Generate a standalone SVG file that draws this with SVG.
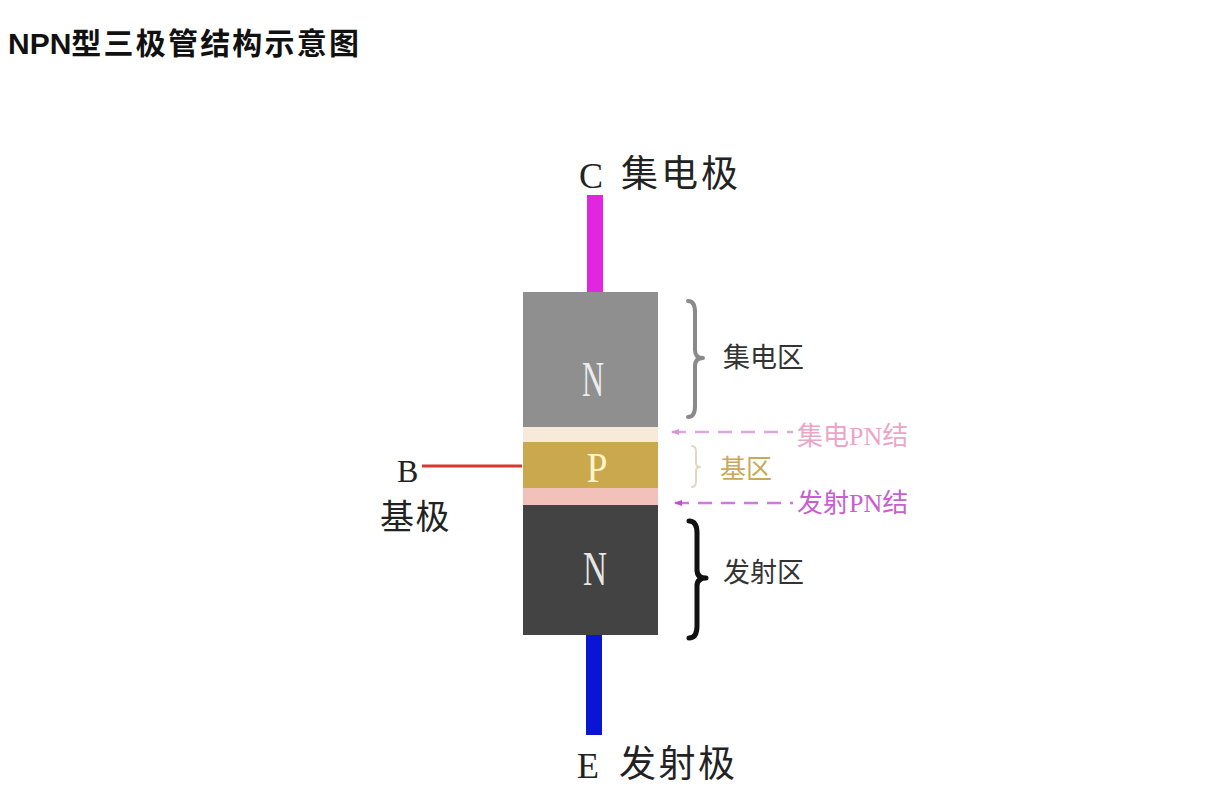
<svg xmlns="http://www.w3.org/2000/svg" width="1210" height="792" viewBox="0 0 1210 792">
<style>
.cjk{font-family:"Noto Sans CJK SC","Liberation Sans",sans-serif}
.ser{font-family:"Liberation Serif","Noto Sans CJK SC",serif}
.lbl{font-size:27px;fill:#333}
.brace{fill:none;stroke-linecap:round;stroke-linejoin:round}
.dash{stroke-width:2.5;stroke-dasharray:14 9;fill:none}
</style>
<defs>
<marker id="ah1" markerWidth="8" markerHeight="6" refX="1" refY="3" orient="auto" markerUnits="userSpaceOnUse">
<path d="M8,0 L0,3 L8,6 Z" fill="#d890d8"/>
</marker>
<marker id="ah2" markerWidth="8" markerHeight="6" refX="1" refY="3" orient="auto" markerUnits="userSpaceOnUse">
<path d="M8,0 L0,3 L8,6 Z" fill="#c050d0"/>
</marker>
</defs>
<rect width="1210" height="792" fill="#fff"/>
<text x="8" y="54" font-family="Liberation Sans,Noto Sans CJK SC,sans-serif" font-size="30" font-weight="bold" fill="#111">NPN<tspan letter-spacing="2.2">型三极管结构示意图</tspan></text>

<g id="collector-lead"><rect x="587" y="195" width="16" height="98" fill="#e026e0"/></g>
<g id="emitter-lead"><rect x="586" y="635" width="16" height="100" fill="#0a14d4"/></g>
<g id="base-lead"><line x1="422" y1="466" x2="522" y2="466" stroke="#d23a32" stroke-width="3"/></g>

<g id="collector-region">
<rect x="523" y="292" width="135" height="135" fill="#8f8f8f"/>
<text x="593" y="396" class="ser" font-size="50" fill="#ececec" text-anchor="middle" textLength="22" lengthAdjust="spacingAndGlyphs">N</text>
</g>
<g id="collector-junction"><rect x="523" y="427" width="135" height="15" fill="#f9e9d9"/></g>
<g id="base-region">
<rect x="523" y="442" width="135" height="46" fill="#c9a84e"/>
<text x="597" y="482" class="ser" font-size="42" fill="#fff4c8" text-anchor="middle" textLength="21" lengthAdjust="spacingAndGlyphs">P</text>
</g>
<g id="emitter-junction"><rect x="523" y="488" width="135" height="17" fill="#f2c2ba"/></g>
<g id="emitter-region">
<rect x="523" y="505" width="135" height="130" fill="#434343"/>
<text x="595" y="585" class="ser" font-size="48" fill="#e6e6e6" text-anchor="middle" textLength="24" lengthAdjust="spacingAndGlyphs">N</text>
</g>

<g id="label-C">
<text x="579" y="188" class="ser" font-size="36" fill="#222">C</text>
<text x="621" y="187" class="cjk" font-size="37" letter-spacing="3" fill="#222">集电极</text>
</g>
<g id="label-E">
<text x="577" y="778" class="ser" font-size="36" fill="#222">E</text>
<text x="619" y="777" class="cjk" font-size="37" letter-spacing="2.5" fill="#222">发射极</text>
</g>
<g id="label-B">
<text x="397" y="482" class="ser" font-size="32" fill="#222">B</text>
<text x="380" y="529" class="cjk" font-size="34" letter-spacing="1.5" fill="#222">基极</text>
</g>

<g id="collector-brace">
<path class="brace" stroke="#8a8a8a" stroke-width="4" d="M688,301 Q695,301 695,312 L695,350 Q695,358 703,358 Q695,358 695,366 L695,406 Q695,417 688,417"/>
<text x="723" y="367" class="cjk lbl">集电区</text>
</g>
<g id="base-brace">
<path class="brace" stroke="#e2d8c0" stroke-width="2" d="M692,446 Q696,446 696,452 L696,463 Q696,467 700,467 Q696,467 696,471 L696,481 Q696,487 692,487"/>
<text x="720" y="478" class="cjk" font-size="26" fill="#c9a85c">基区</text>
</g>
<g id="emitter-brace">
<path class="brace" stroke="#111" stroke-width="5" d="M689,521 Q697,521 697,533 L697,570 Q697,578 706,578 Q697,578 697,586 L697,626 Q697,638 689,638"/>
<text x="723" y="582" class="cjk lbl">发射区</text>
</g>

<g id="connectors">
<line class="dash" x1="672" y1="432" x2="793" y2="432" stroke="#dca8e0" marker-start="url(#ah1)"/>
<line class="dash" x1="675" y1="503" x2="793" y2="503" stroke="#d276e0" marker-start="url(#ah2)"/>
</g>
<g id="label-cj">
<text x="797" y="445" class="cjk" font-size="26" fill="#eaa6c8">集电<tspan class="ser">PN</tspan>结</text>
</g>
<g id="label-ej">
<text x="797" y="512" class="cjk" font-size="26" fill="#c85ed2">发射<tspan class="ser">PN</tspan>结</text>
</g>
</svg>
